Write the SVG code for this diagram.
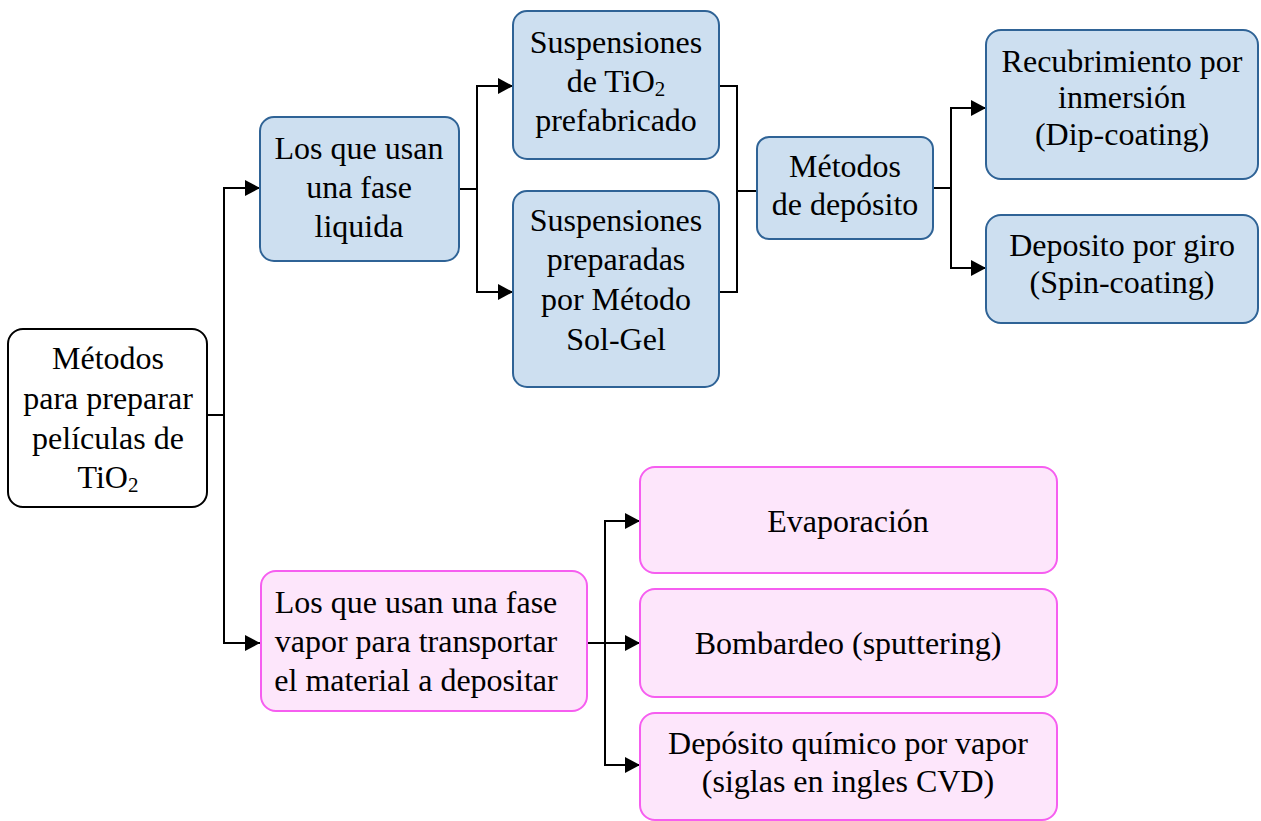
<svg xmlns="http://www.w3.org/2000/svg" width="1261" height="821" viewBox="0 0 1261 821">
<defs>
<marker id="arr" viewBox="0 0 15 16" refX="15" refY="8" markerWidth="15" markerHeight="16" markerUnits="userSpaceOnUse" orient="auto">
<path d="M0,0 L15,8 L0,16 Z" fill="#000"/>
</marker>
<style>
.root{fill:#fff;stroke:#000;stroke-width:2}
.blue{fill:#cddff0;stroke:#2f6396;stroke-width:2}
.pink{fill:#fde6fb;stroke:#f65ef0;stroke-width:2}
.t{font-size:32px;fill:#000;text-anchor:middle}
.sub{font-size:21px}
.c{fill:none;stroke:#000;stroke-width:2}
</style>
</defs>
<g id="connectors">
<path class="c" d="M207,415 H224 V188 H260" marker-end="url(#arr)"/>
<path class="c" d="M224,415 V643 H260" marker-end="url(#arr)"/>
<path class="c" d="M459,189 H477 V86 H513" marker-end="url(#arr)"/>
<path class="c" d="M477,189 V292 H513" marker-end="url(#arr)"/>
<path class="c" d="M719,86 H737 V292 H719"/>
<path class="c" d="M737,191 H757"/>
<path class="c" d="M933,188 H951 V108 H986" marker-end="url(#arr)"/>
<path class="c" d="M951,188 V268 H986" marker-end="url(#arr)"/>
<path class="c" d="M587,643 H605 V521 H640" marker-end="url(#arr)"/>
<path class="c" d="M605,643 H640" marker-end="url(#arr)"/>
<path class="c" d="M605,643 V765 H640" marker-end="url(#arr)"/>
</g>
<g class="t" font-family="'Liberation Serif', 'Times New Roman', 'DejaVu Serif', serif">
<g id="root">
<rect class="root" x="8" y="329" width="199" height="178" rx="15"/>
<text x="108" y="369">Métodos</text>
<text x="108" y="409">para preparar</text>
<text x="108" y="449">películas de</text>
<text x="108" y="488">TiO<tspan class="sub" dy="4">2</tspan></text>
</g>
<g id="liquid">
<rect class="blue" x="260" y="117" width="199" height="144" rx="14"/>
<text x="359" y="159">Los que usan</text>
<text x="359" y="198">una fase</text>
<text x="359" y="237">liquida</text>
</g>
<g id="susp1">
<rect class="blue" x="513" y="11" width="206" height="148" rx="14"/>
<text x="616" y="53">Suspensiones</text>
<text x="616" y="92">de TiO<tspan class="sub" dy="4">2</tspan></text>
<text x="616" y="131">prefabricado</text>
</g>
<g id="susp2">
<rect class="blue" x="513" y="191" width="206" height="196" rx="14"/>
<text x="616" y="231">Suspensiones</text>
<text x="616" y="270">preparadas</text>
<text x="616" y="310">por Método</text>
<text x="616" y="350">Sol-Gel</text>
</g>
<g id="deposito">
<rect class="blue" x="757" y="137" width="176" height="102" rx="12"/>
<text x="845" y="177">Métodos</text>
<text x="845" y="215">de depósito</text>
</g>
<g id="dip">
<rect class="blue" x="986" y="30" width="272" height="149" rx="15"/>
<text x="1122" y="72">Recubrimiento por</text>
<text x="1122" y="108">inmersión</text>
<text x="1122" y="145">(Dip-coating)</text>
</g>
<g id="spin">
<rect class="blue" x="986" y="215" width="272" height="108" rx="15"/>
<text x="1122" y="256">Deposito por giro</text>
<text x="1122" y="293">(Spin-coating)</text>
</g>
<g id="vapor">
<rect class="pink" x="261" y="571" width="326" height="140" rx="15"/>
<text x="416" y="613">Los que usan una fase</text>
<text x="416" y="652">vapor para transportar</text>
<text x="416" y="691">el material a depositar</text>
</g>
<g id="evap">
<rect class="pink" x="640" y="467" width="417" height="106" rx="15"/>
<text x="848" y="532">Evaporación</text>
</g>
<g id="sputter">
<rect class="pink" x="640" y="589" width="417" height="108" rx="15"/>
<text x="848" y="654">Bombardeo (sputtering)</text>
</g>
<g id="cvd">
<rect class="pink" x="640" y="713" width="417" height="107" rx="15"/>
<text x="848" y="754">Depósito químico por vapor</text>
<text x="848" y="792">(siglas en ingles CVD)</text>
</g>
</g>
</svg>
